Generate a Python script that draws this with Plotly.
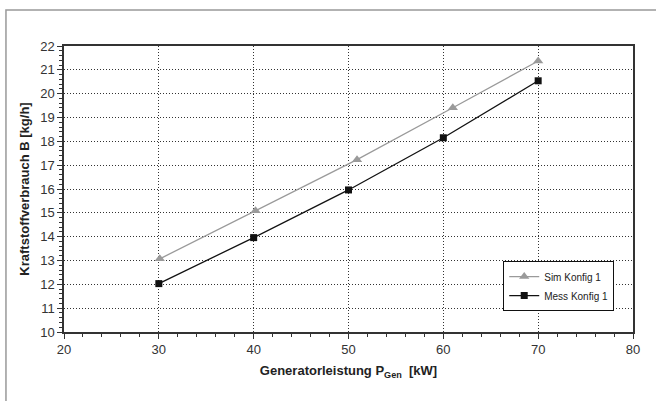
import plotly.graph_objects as go

x_sim = [30.1, 40.2, 50.9, 61.0, 70.0]
y_sim = [13.07, 15.09, 17.23, 19.41, 21.37]
x_mess = [30.0, 40.0, 50.0, 60.0, 70.0]
y_mess = [12.03, 13.96, 15.96, 18.15, 20.54]

fig = go.Figure()
fig.add_trace(go.Scatter(x=x_sim, y=y_sim, name="Sim Konfig 1", mode="lines+markers",
                         line=dict(color="#9a9a9a", width=1.3),
                         marker=dict(symbol="triangle-up", size=9, color="#9a9a9a")))
fig.add_trace(go.Scatter(x=x_mess, y=y_mess, name="Mess Konfig 1", mode="lines+markers",
                         line=dict(color="#111111", width=1.3),
                         marker=dict(symbol="square", size=7, color="#111111")))

axis_common = dict(
    showline=True, linecolor="#333333", linewidth=1.5, mirror=True,
    showgrid=True, gridcolor="#333333", griddash="1px,2px", gridwidth=1,
    zeroline=False, ticks="outside", ticklen=5, tickcolor="#333333", tickwidth=1,
    tickfont=dict(family="Arial, Liberation Sans", size=13, color="#333333"),
)

fig.update_xaxes(range=[20, 80], dtick=10, **axis_common,
                 minor=dict(dtick=2, ticks="outside", ticklen=3, tickcolor="#333333", showgrid=False),
                 title=dict(text="<b>Generatorleistung P<sub>Gen</sub>  [kW]</b>",
                            font=dict(family="Arial, Liberation Sans", size=13, color="#222222"),
                            standoff=10))
fig.update_yaxes(range=[10, 22], dtick=1, **axis_common,
                 minor=dict(dtick=0.2, ticks="outside", ticklen=3, tickcolor="#333333", showgrid=False),
                 title=dict(text="<b>Kraftstoffverbrauch B [kg/h]</b>",
                            font=dict(family="Arial, Liberation Sans", size=13, color="#222222"),
                            standoff=8))

fig.add_shape(type="rect", xref="paper", yref="paper",
              x0=-0.102, x1=1.06, y0=-0.3, y1=1.126,
              line=dict(color="#999999", width=1.5), layer="below")

fig.update_layout(
    width=656, height=401,
    margin=dict(l=64, r=23, t=46, b=69),
    paper_bgcolor="white", plot_bgcolor="white",
    font=dict(family="Arial, Liberation Sans", color="#222222"),
    showlegend=True,
    legend=dict(x=0.967, y=0.073, xanchor="right", yanchor="bottom",
                bgcolor="white", bordercolor="#111111", borderwidth=1,
                font=dict(family="Arial, Liberation Sans", size=10, color="#222222"),
                tracegroupgap=0, itemwidth=30),
)

fig.write_html("out.html")
